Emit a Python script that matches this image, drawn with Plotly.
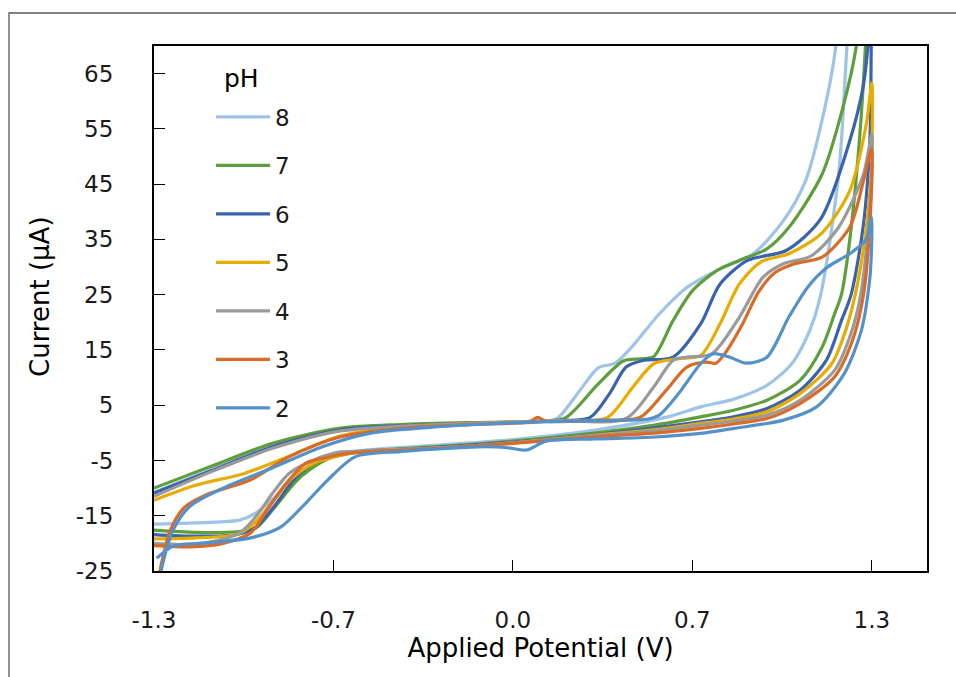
import plotly.graph_objects as go

# ---- data (Applied Potential in V, Current in µA), each loop: forward scan then reverse scan ----
ph8_x = [-1.3, -1.1, -0.9, -0.7, -0.5, -0.2, 0.1, 0.16, 0.24, 0.31, 0.37, 0.43, 0.53, 0.63, 0.74, 0.87, 0.98, 1.06, 1.13, 1.17, 1.3,
         1.21, 1.18, 1.115, 1.075, 1.01, 0.92, 0.80, 0.68, 0.56, 0.31, 0.0, -0.3, -0.55, -0.65, -0.70, -0.78, -0.86, -0.93, -0.99, -1.1, -1.3]
ph8_y = [-10.8, -6.8, -2.8, 0.0, 0.9, 1.5, 2.0, 2.6, 7.5, 11.8, 12.6, 15.5, 21.5, 26.3, 29.4, 32.4, 38.4, 45.6, 58.8, 70, 150,
         70, 46.8, 25, 18.5, 12.5, 8.6, 6.1, 4.7, 2.9, 0.6, -1.2, -2.3, -3.2, -4.0, -4.9, -7.9, -11.5, -14.5, -15.8, -16.2, -16.5]

ph7_x = [-1.3, -1.1, -0.87, -0.63, -0.41, -0.1, 0.1, 0.19, 0.31, 0.40, 0.46, 0.51, 0.58, 0.65, 0.74, 0.82, 0.92, 1.0, 1.12, 1.195, 1.244, 1.3,
         1.277, 1.255, 1.22, 1.19, 1.165, 1.12, 1.04, 0.92, 0.80, 0.68, 0.5, 0.3, 0.0, -0.3, -0.55, -0.65, -0.70, -0.78, -0.86, -0.93, -1.0, -1.15, -1.3]
ph7_y = [-10.0, -6.2, -1.9, 0.8, 1.5, 1.9, 2.1, 2.7, 8.9, 13.0, 13.4, 13.8, 20.3, 25.7, 29.4, 31.2, 33.3, 37.2, 46.8, 58.8, 70, 100,
         70, 52.8, 34.8, 25, 21.5, 15.5, 9.5, 5.9, 4.1, 2.9, 1.3, 0.0, -1.5, -2.6, -3.4, -4.3, -5.5, -8.5, -13.3, -17.2, -17.9, -18.0, -17.6]

ph6_x = [-1.3, -1.1, -0.87, -0.63, -0.4, -0.1, 0.15, 0.28, 0.35, 0.41, 0.47, 0.58, 0.68, 0.75, 0.85, 0.99, 1.115, 1.22, 1.27, 1.286, 1.3,
         1.298, 1.293, 1.27, 1.225, 1.19, 1.135, 1.04, 0.92, 0.80, 0.68, 0.5, 0.3, 0.0, -0.3, -0.55, -0.65, -0.72, -0.79, -0.86, -0.93, -1.0, -1.15, -1.3]
ph6_y = [-10.9, -7.0, -2.5, 0.5, 1.3, 1.8, 2.2, 2.8, 7.1, 11.9, 13.1, 13.7, 19.7, 26.9, 31.2, 33.0, 38.7, 52.8, 63.0, 70, 80,
         70, 52.8, 37.8, 25, 20.3, 13.1, 7.7, 4.4, 2.9, 2.0, 0.8, -0.3, -1.7, -2.7, -3.4, -4.3, -5.5, -8.3, -13.0, -17.0, -18.4, -18.7, -18.4]

ph5_x = [-1.3, -1.15, -0.97, -0.8, -0.62, -0.4, -0.1, 0.15, 0.34, 0.435, 0.51, 0.60, 0.68, 0.75, 0.82, 0.90, 1.0, 1.12, 1.22, 1.28, 1.3,
         1.298, 1.274, 1.24, 1.205, 1.155, 1.04, 0.92, 0.80, 0.68, 0.5, 0.3, 0.0, -0.3, -0.55, -0.65, -0.72, -0.80, -0.87, -0.94, -1.0, -1.15, -1.3]
ph5_y = [-12.2, -9.5, -7.3, -4.0, -0.5, 1.1, 1.8, 2.2, 2.7, 8.3, 12.5, 13.4, 14.0, 19.7, 26.9, 31.0, 32.4, 36.2, 43.8, 55.8, 63.3,
         46.8, 34.8, 25, 18.5, 12.5, 7.1, 3.8, 2.5, 1.7, 0.5, -0.4, -1.8, -2.8, -3.4, -4.4, -5.5, -8.2, -12.5, -16.5, -18.4, -19.0, -19.2]

ph4_x = [-1.3, -1.1, -0.87, -0.63, -0.4, -0.1, 0.15, 0.41, 0.51, 0.58, 0.63, 0.72, 0.82, 0.905, 0.98, 1.08, 1.18, 1.27, 1.3,
         1.293, 1.26, 1.22, 1.165, 1.04, 0.92, 0.80, 0.68, 0.5, 0.3, 0.0, -0.3, -0.55, -0.63, -0.72, -0.81, -0.87, -0.93, -0.99, -1.1, -1.2, -1.3]
ph4_y = [-11.5, -7.2, -2.8, 0.3, 1.2, 1.8, 2.2, 2.6, 8.3, 13.1, 13.7, 14.3, 20.9, 28.1, 30.6, 32.0, 37.2, 46.8, 54.0,
         40.8, 25, 17.3, 11.3, 5.9, 3.2, 2.1, 1.4, 0.3, -0.5, -1.8, -2.8, -3.3, -3.5, -4.9, -7.3, -10.9, -15.1, -18.1, -19.8, -20.2, -20.0]

ph3_x = [-1.29, -1.27, -1.24, -1.19, -1.11, -0.95, -0.81, -0.63, -0.4, -0.1, 0.06, 0.09, 0.12, 0.3, 0.46, 0.555, 0.63, 0.70, 0.735, 0.77, 0.83, 0.89, 0.95, 1.02, 1.12, 1.22, 1.27, 1.3,
         1.293, 1.27, 1.23, 1.165, 1.04, 0.92, 0.80, 0.68, 0.5, 0.3, 0.0, -0.3, -0.6, -0.68, -0.75, -0.83, -0.89, -0.95, -1.05, -1.15, -1.3]
ph3_y = [-28, -23, -17.5, -13.5, -11.2, -8.5, -4.3, -0.8, 0.8, 1.6, 2.0, 2.8, 2.1, 2.3, 2.8, 7.7, 11.9, 12.8, 12.6, 14.5, 19.5, 25.5, 29.0, 30.6, 31.8, 37.2, 45.6, 51.5,
         37.8, 25, 16.7, 10.1, 5.3, 2.6, 1.6, 0.8, -0.1, -0.7, -1.9, -2.9, -3.7, -4.5, -5.5, -9.7, -13.9, -18.1, -20.0, -20.6, -20.4]

ph2_x = [-1.285, -1.27, -1.23, -1.17, -1.05, -0.87, -0.69, -0.51, -0.3, -0.1, 0.1, 0.3, 0.49, 0.53, 0.60, 0.68, 0.725, 0.785, 0.845, 0.92, 1.0, 1.07, 1.14, 1.22, 1.28, 1.3,
         1.298, 1.292, 1.262, 1.20, 1.10, 0.98, 0.80, 0.68, 0.5, 0.3, 0.12, 0.05, -0.02, -0.1, -0.3, -0.41, -0.57, -0.67, -0.75, -0.84, -0.95, -1.11, -1.23, -1.29]
ph2_y = [-28, -24, -17.5, -13.3, -10.0, -6.3, -2.5, 0.0, 1.0, 1.6, 2.0, 2.2, 2.5, 3.2, 7.1, 12.5, 14.3, 13.7, 12.6, 13.7, 21.0, 26.5, 30.0, 32.4, 35.0, 39.0,
         32, 27.5, 18.5, 10.7, 4.7, 2.3, 0.8, -0.1, -0.8, -1.1, -1.5, -3.1, -2.7, -2.5, -3.0, -3.4, -4.3, -8.5, -12.7, -17.0, -19.0, -19.9, -20.5, -22.7]

series_names = ["8", "7", "6", "5", "4", "3", "2"]
series_x = [ph8_x, ph7_x, ph6_x, ph5_x, ph4_x, ph3_x, ph2_x]
series_y = [ph8_y, ph7_y, ph6_y, ph5_y, ph4_y, ph3_y, ph2_y]
series_colors = ["#9DC3E6", "#5E9E3C", "#3A62AD", "#E8AC00", "#9A9A9A", "#D86B2A", "#5591C9"]

x_tickvals = [-1.3, -0.65, 0.0, 0.65, 1.3]
x_ticktext = ["-1.3", "-0.7", "0.0", "0.7", "1.3"]
y_tickvals = [-25, -15, -5, 5, 15, 25, 35, 45, 55, 65]
y_ticktext = ["-25", "-15", "-5", "5", "15", "25", "35", "45", "55", "65"]

FONT = "DejaVu Sans"

fig = go.Figure()
for name, xs, ys, col in zip(series_names, series_x, series_y, series_colors):
    fig.add_trace(go.Scatter(
        x=xs, y=ys, mode="lines", name=name, legendgroup=name,
        line=dict(color=col, width=3.2, shape="spline", smoothing=0.8),
    ))

axis_common = dict(
    showgrid=False, zeroline=False, showline=True, linecolor="black", linewidth=2,
    mirror=True, ticks="inside", ticklen=11, tickwidth=1.3, tickcolor="black",
    tickfont=dict(family=FONT, size=23, color="#1a1a1a"),
)

fig.update_layout(
    width=956, height=677,
    margin=dict(l=154, r=29, t=46, b=106),
    paper_bgcolor="white", plot_bgcolor="white",
    xaxis=dict(range=[-1.3, 1.5], tickvals=x_tickvals, ticktext=x_ticktext,
               ticklabelstandoff=27,
               title=dict(text="Applied Potential (V)", standoff=3,
                          font=dict(family=FONT, size=26, color="black")),
               **axis_common),
    yaxis=dict(range=[-25, 70], tickvals=y_tickvals, ticktext=y_ticktext,
               ticklabelstandoff=34,
               **axis_common),
    legend=dict(
        x=0.0738, y=0.9057, xanchor="left", yanchor="top",
        bgcolor="rgba(0,0,0,0)", borderwidth=0,
        font=dict(family=FONT, size=23, color="#1a1a1a"),
        traceorder="grouped", tracegroupgap=15.6, itemwidth=54,
    ),
    showlegend=True,
    annotations=[
        dict(text="pH", xref="paper", yref="paper",
             x=(222 - 154) / 773, y=(571 - 78) / 525,
             xanchor="left", yanchor="middle", showarrow=False,
             font=dict(family=FONT, size=25, color="black")),
        dict(text="Current (μA)", xref="paper", yref="paper",
             x=(40 - 154) / 773, y=(571 - 297) / 525,
             xanchor="center", yanchor="middle", textangle=-90, showarrow=False,
             font=dict(family=FONT, size=26, color="black")),
    ],
    shapes=[dict(type="rect", xref="paper", yref="paper",
                 x0=-0.1876, x1=1.05, y0=-0.25, y1=1.0629,
                 line=dict(color="#595959", width=1.3), layer="below")],
)

fig.write_html("out.html")
